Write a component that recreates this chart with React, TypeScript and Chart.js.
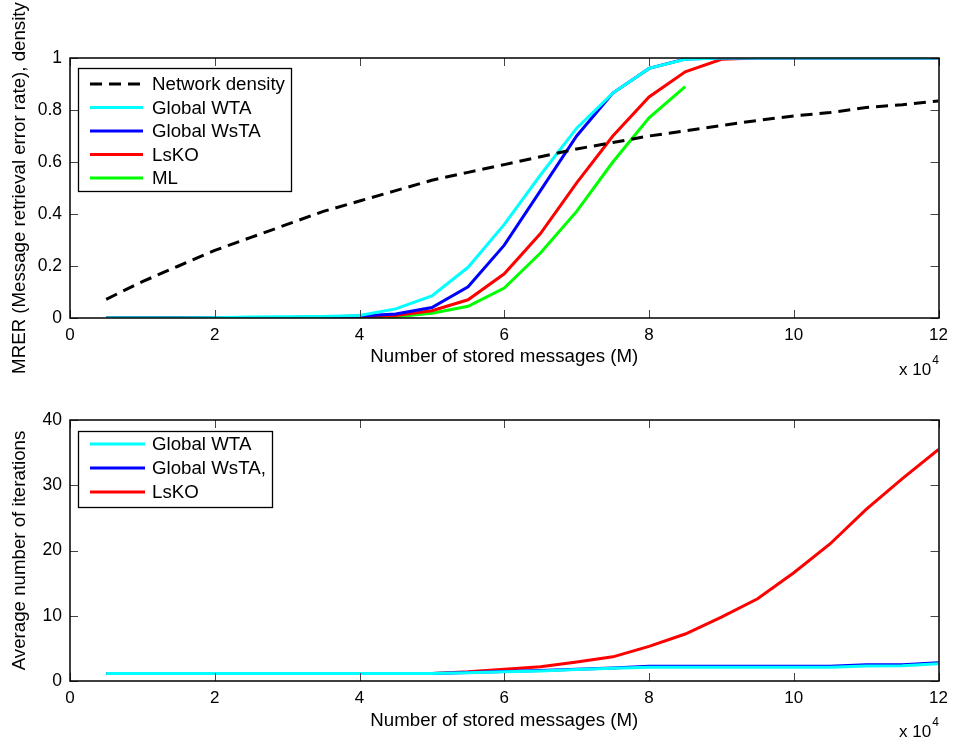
import React, { useEffect, useRef } from "react";
import { Chart, registerables } from "chart.js";

Chart.register(...registerables);

const FONT = '"Liberation Sans", Arial, Helvetica, sans-serif';

// x values in units of 10^4 stored messages
const storedMessages = [0.5, 1, 1.5, 2, 2.5, 3, 3.5, 4, 4.5, 5, 5.5, 6, 6.5, 7, 7.5, 8, 8.5, 9, 9.5, 10, 10.5, 11, 11.5, 12];
const xTickStep = 2;

// Top panel: MRER and network density
const networkDensity = [0.072, 0.14, 0.2, 0.26, 0.31, 0.36, 0.41, 0.45, 0.49, 0.53, 0.56, 0.59, 0.62, 0.65, 0.675, 0.7, 0.72, 0.74, 0.76, 0.777, 0.79, 0.81, 0.82, 0.835];
const mrerGlobalWTA = [0, 0, 0, 0.001, 0.004, 0.005, 0.006, 0.01, 0.035, 0.085, 0.195, 0.36, 0.55, 0.73, 0.865, 0.96, 0.995, 1, 1, 1, 1, 1, 1, 1];
const mrerGlobalWsTA = [0, 0, 0, 0, 0.001, 0.002, 0.004, 0.008, 0.015, 0.04, 0.12, 0.28, 0.49, 0.7, 0.865, 0.96, 0.996, 1, 1, 1, 1, 1, 1, 1];
const mrerLsKO = [0, 0, 0, 0, 0, 0.001, 0.003, 0.005, 0.01, 0.028, 0.07, 0.17, 0.325, 0.52, 0.7, 0.85, 0.947, 0.995, 1, 1, 1, 1, 1, 1];
const mrerML = [0, 0, 0, 0, 0, 0.001, 0.002, 0.004, 0.005, 0.018, 0.045, 0.115, 0.25, 0.41, 0.6, 0.77, 0.89];

// Bottom panel: average number of iterations
const iterGlobalWTA = [1.15, 1.15, 1.15, 1.15, 1.15, 1.15, 1.15, 1.15, 1.15, 1.15, 1.25, 1.4, 1.55, 1.75, 1.95, 2.1, 2.1, 2.1, 2.1, 2.1, 2.1, 2.3, 2.35, 2.65];
const iterGlobalWsTA = [1.15, 1.15, 1.15, 1.15, 1.15, 1.15, 1.15, 1.15, 1.15, 1.15, 1.3, 1.45, 1.6, 1.8, 2.0, 2.25, 2.25, 2.25, 2.25, 2.25, 2.25, 2.5, 2.5, 2.8];
const iterLsKO = [1.15, 1.15, 1.15, 1.15, 1.15, 1.15, 1.15, 1.15, 1.15, 1.15, 1.4, 1.8, 2.2, 2.9, 3.7, 5.3, 7.2, 9.8, 12.6, 16.6, 21.0, 26.3, 31.0, 35.5];

const topLabels = ["Network density", "Global WTA", "Global WsTA", "LsKO", "ML"];
const bottomLabels = ["Global WTA", "Global WsTA,", "LsKO"];

const CYAN = "#00ffff";
const BLUE = "#0000ff";
const RED = "#ff0000";
const GREEN = "#00ff00";

const LW = 3;
const TEXT_SIZE = 18.7;
const TICK_SIZE = 17;

const toPoints = (ys: number[]) => ys.map((y, i) => ({ x: storedMessages[i], y }));

const matlabPlugin = {
  id: "matlabAxes",
  afterDraw(chart: any, _args: any, opts: any) {
    const ctx = chart.ctx as CanvasRenderingContext2D;
    const { left, right, top, bottom } = chart.chartArea;
    const xs = chart.scales.x;
    const ys = chart.scales.y;
    ctx.save();
    // inner tick marks
    const tl = 8;
    ctx.beginPath();
    xs.ticks.forEach((t: any) => {
      const px = Math.round(xs.getPixelForValue(t.value)) + 0.5;
      ctx.moveTo(px, bottom);
      ctx.lineTo(px, bottom - tl);
      ctx.moveTo(px, top);
      ctx.lineTo(px, top + tl);
    });
    ys.ticks.forEach((t: any) => {
      const py = Math.round(ys.getPixelForValue(t.value)) + 0.5;
      ctx.moveTo(left, py);
      ctx.lineTo(left + tl, py);
      ctx.moveTo(right, py);
      ctx.lineTo(right - tl, py);
    });
    ctx.strokeStyle = "#444";
    ctx.lineWidth = 1;
    ctx.stroke();
    // box
    ctx.strokeStyle = "#000";
    ctx.lineWidth = 1.5;
    ctx.strokeRect(Math.round(left), Math.round(top), Math.round(right - left), Math.round(bottom - top));

    // titles
    ctx.fillStyle = "#000";
    ctx.font = `${TEXT_SIZE}px ${FONT}`;
    ctx.textAlign = "center";
    ctx.textBaseline = "middle";
    ctx.fillText("Number of stored messages (M)", (left + right) / 2, opts.xTitleY);
    ctx.save();
    ctx.translate(opts.yTitleX, (top + bottom) / 2);
    ctx.rotate(-Math.PI / 2);
    ctx.fillText(opts.yTitle, 0, 0);
    ctx.restore();

    // exponent
    ctx.textAlign = "left";
    ctx.font = `${TICK_SIZE}px ${FONT}`;
    ctx.fillText("x 10", opts.expX, opts.expY);
    const w = ctx.measureText("x 10").width;
    ctx.font = `12px ${FONT}`;
    ctx.fillText("4", opts.expX + w + 1, opts.expY - 9);

    // legend
    const lb = opts.legend;
    ctx.fillStyle = "#fff";
    ctx.fillRect(lb.x, lb.y, lb.w, lb.h);
    ctx.strokeStyle = "#000";
    ctx.lineWidth = 1.3;
    ctx.strokeRect(lb.x + 0.5, lb.y + 0.5, lb.w, lb.h);
    ctx.font = `${TEXT_SIZE}px ${FONT}`;
    ctx.textAlign = "left";
    ctx.textBaseline = "middle";
    chart.data.datasets.forEach((ds: any, i: number) => {
      const ry = lb.rows[i];
      ctx.beginPath();
      ctx.setLineDash(ds.borderDash || []);
      ctx.strokeStyle = ds.borderColor;
      ctx.lineWidth = ds.borderWidth;
      ctx.moveTo(lb.lineX0, ry);
      ctx.lineTo(lb.lineX1, ry);
      ctx.stroke();
      ctx.setLineDash([]);
      ctx.fillStyle = "#000";
      ctx.fillText(ds.label, lb.textX, ry + 1);
    });
    ctx.restore();
  },
};

function makeConfig(
  datasets: any[],
  yMax: number,
  yStep: number,
  padTop: number,
  xHeight: number,
  plug: any
): any {
  return {
    type: "line",
    data: { datasets },
    options: {
      animation: false,
      responsive: false,
      devicePixelRatio: 1,
      layout: { padding: { top: padTop, right: 13, bottom: 0, left: 0 } },
      plugins: { legend: { display: false }, tooltip: { enabled: false }, matlabAxes: plug },
      elements: { point: { radius: 0 }, line: { tension: 0 } },
      scales: {
        x: {
          type: "linear",
          min: 0,
          max: 12,
          ticks: { stepSize: xTickStep, color: "#000", font: { family: FONT, size: TICK_SIZE }, padding: 7, maxRotation: 0 },
          grid: { display: false, drawTicks: false },
          border: { display: false },
          afterFit: (s: any) => {
            s.height = xHeight;
          },
        },
        y: {
          type: "linear",
          min: 0,
          max: yMax,
          ticks: {
            stepSize: yStep,
            color: "#000",
            font: { family: FONT, size: 17.5 },
            padding: 8,
            callback: (v: number) => String(Number(v.toFixed(2))),
          },
          grid: { display: false, drawTicks: false },
          border: { display: false },
          afterFit: (s: any) => {
            s.width = 70;
          },
        },
      },
    },
    plugins: [matlabPlugin],
  };
}

export default function App() {
  const topRef = useRef<HTMLCanvasElement>(null);
  const botRef = useRef<HTMLCanvasElement>(null);

  useEffect(() => {
    const topSets = [
      { label: topLabels[0], data: toPoints(networkDensity), borderColor: "#000", borderWidth: LW, borderDash: [12, 7] },
      { label: topLabels[1], data: toPoints(mrerGlobalWTA), borderColor: CYAN, borderWidth: LW },
      { label: topLabels[2], data: toPoints(mrerGlobalWsTA), borderColor: BLUE, borderWidth: LW },
      { label: topLabels[3], data: toPoints(mrerLsKO), borderColor: RED, borderWidth: LW },
      { label: topLabels[4], data: toPoints(mrerML), borderColor: GREEN, borderWidth: LW },
    ];
    const botSets = [
      { label: bottomLabels[0], data: toPoints(iterGlobalWTA), borderColor: CYAN, borderWidth: LW },
      { label: bottomLabels[1], data: toPoints(iterGlobalWsTA), borderColor: BLUE, borderWidth: LW },
      { label: bottomLabels[2], data: toPoints(iterLsKO), borderColor: RED, borderWidth: LW },
    ];
    const c1 = new Chart(
      topRef.current as HTMLCanvasElement,
      makeConfig(topSets, 1, 0.2, 58, 67, {
        xTitleY: 357,
        yTitleX: 20,
        yTitle: "MRER (Message retrieval error rate), density",
        expX: 899,
        expY: 370,
        legend: { x: 78, y: 68, w: 213, h: 123, rows: [84, 107.5, 131, 154.5, 178], lineX0: 90, lineX1: 143, textX: 152 },
      })
    );
    const c2 = new Chart(
      botRef.current as HTMLCanvasElement,
      makeConfig(botSets, 40, 10, 35, 63, {
        xTitleY: 336,
        yTitleX: 20,
        yTitle: "Average number of iterations",
        expX: 899,
        expY: 347,
        legend: { x: 78, y: 46, w: 194, h: 76, rows: [59, 83, 107], lineX0: 90, lineX1: 145, textX: 152 },
      })
    );
    return () => {
      c1.destroy();
      c2.destroy();
    };
  }, []);

  return (
    <div style={{ position: "absolute", left: 0, top: 0, width: 955, height: 744, background: "#fff" }}>
      <canvas ref={topRef} width={955} height={385} style={{ display: "block", width: 955, height: 385 }} />
      <canvas ref={botRef} width={955} height={359} style={{ display: "block", width: 955, height: 359 }} />
    </div>
  );
}
